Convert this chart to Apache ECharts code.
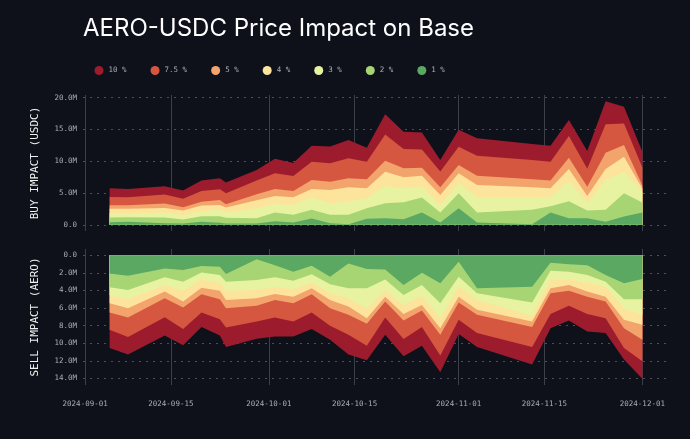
<!DOCTYPE html>
<html><head><meta charset="utf-8">
<script src="https://cdn.jsdelivr.net/npm/echarts@6/dist/echarts.min.js"></script>
<style>html,body{margin:0;padding:0;background:#0f111a;} #c{width:690px;height:439px;}</style>
</head><body><div id="c"></div>
<script>
const dates = ['2024-09-05','2024-09-08','2024-09-14','2024-09-17','2024-09-20','2024-09-23','2024-09-24','2024-09-29','2024-10-02','2024-10-05','2024-10-08','2024-10-11','2024-10-14','2024-10-17','2024-10-20','2024-10-23','2024-10-26','2024-10-29','2024-11-01','2024-11-04','2024-11-13','2024-11-16','2024-11-19','2024-11-22','2024-11-25','2024-11-28','2024-12-01'];
const levels = ['10 %','7.5 %','5 %','4 %','3 %','2 %','1 %'];
const colors = ['#9c1c2e','#d5573f','#f2a46c','#fde49c','#e7f3a1','#a8d574','#5aa862'];

// Buy impact (USDC, millions) per price-impact level
const buy10 = [5.75,5.64,6.06,5.38,6.95,7.31,6.64,8.62,10.40,9.72,12.45,12.33,13.32,12.12,17.40,14.63,14.52,10.2,14.95,13.6,12.7,12.45,16.5,11.6,19.44,18.55,11.5];
const buy75 = [4.39,4.34,4.75,4.08,5.33,5.59,4.96,6.95,8.10,7.68,9.93,9.67,10.45,9.93,14.21,11.91,11.86,8.4,12.28,10.87,10.19,9.93,13.95,8.8,15.83,15.94,9.0];
const buy5 = [3.08,3.08,3.34,2.77,3.61,3.92,3.24,4.81,5.64,5.33,7.05,6.79,7.31,7.16,10.08,8.88,8.99,5.90,9.40,7.73,7.16,6.95,10.55,6.0,11.34,12.54,6.2];
const buy4 = [2.51,2.51,2.66,2.25,3.03,3.13,2.72,3.87,4.55,4.34,5.64,5.49,5.90,5.75,8.36,7.47,7.73,4.70,8.10,6.27,5.90,5.75,8.78,4.55,8.78,10.71,5.7];
const buy3 = [1.83,1.83,1.93,1.52,2.14,2.35,1.93,2.61,3.24,3.13,4.34,3.40,3.76,4.18,6.11,5.75,6.01,3.13,6.53,4.39,4.28,4.34,6.95,3.40,7.05,8.36,5.2];
const buy2 = [1.15,1.20,1.15,0.84,1.36,1.36,1.10,1.04,1.93,1.57,2.35,1.57,1.57,2.61,3.40,3.55,4.28,1.93,4.96,1.93,2.35,2.9,3.7,2.25,2.35,4.96,3.5];
const buy1 = [0.42,0.47,0.26,0.21,0.47,0.31,0.21,0.21,0.58,0.37,0.99,0.26,0.10,0.94,1.04,0.89,1.93,0.37,2.61,0.37,0.10,1.93,1.04,1.04,0.47,1.31,1.95];

// Sell impact (AERO, millions) per price-impact level
const sell10 = [10.55,11.30,9.12,10.24,8.17,9.12,10.43,9.49,9.23,9.23,8.40,9.60,11.30,11.94,9.04,11.49,10.28,13.30,8.96,10.43,12.43,8.29,7.42,8.66,8.85,11.86,14.05];
const sell75 = [8.47,9.30,7.04,8.40,6.52,7.27,8.21,7.53,7.08,7.53,6.52,8.02,9.04,10.28,7.08,9.53,8.17,11.41,7.34,8.85,10.43,6.67,5.76,6.67,7.16,10.55,12.05];
const sell5 = [6.52,7.08,4.90,5.95,4.44,5.01,6.03,5.76,5.08,5.46,4.44,6.03,6.78,7.80,5.27,7.42,6.29,9.04,5.39,6.78,8.17,4.33,4.03,4.71,5.27,8.29,9.60];
const sell4 = [5.46,6.03,4.14,5.27,3.69,4.03,5.08,4.90,4.41,4.71,3.77,5.08,5.84,7.16,4.71,6.67,5.65,8.29,4.71,6.21,7.53,3.77,3.39,4.14,4.71,7.34,7.91];
const sell3 = [4.52,5.01,3.39,4.03,2.75,3.13,4.03,3.95,3.58,3.88,3.13,4.33,4.90,6.03,3.95,5.65,4.63,7.16,3.58,5.08,6.89,2.75,2.75,3.13,3.58,6.03,6.78];
const sell2 = [3.65,3.95,2.52,3.01,1.96,2.26,3.01,2.82,2.52,2.90,2.18,3.31,3.77,3.77,2.75,4.52,3.39,5.46,2.45,4.33,5.39,1.77,1.88,2.26,3.01,5.01,5.01];
const sell1 = [2.07,2.34,1.51,1.69,1.24,1.32,2.15,0.45,1.13,1.88,1.21,2.45,0.94,1.58,1.62,3.39,2.00,3.20,0.75,3.77,3.58,0.87,1.02,1.13,2.26,3.20,2.71];

const xTickLabels = ['2024-09-01','2024-09-15','2024-10-01','2024-10-15','2024-11-01','2024-11-15','2024-12-01'];
const buyTicks = [0,5,10,15,20];
const sellTicks = [0,2,4,6,8,10,12,14];

const buyLevels = [buy10,buy75,buy5,buy4,buy3,buy2,buy1];
const sellLevels = [sell10,sell75,sell5,sell4,sell3,sell2,sell1];

const ts = s => Date.parse(s + 'T00:00:00Z');
const x0 = ts(dates[0]), x1 = ts(dates[dates.length-1]);
const span = x1 - x0;
const xMin = x0 - 0.05*span, xMax = x1 + 0.05*span;
const buyMax = Math.max(...buy10), sellMax = Math.max(...sell10);

const mono = 'DejaVu Sans Mono';
const tickColor = '#a9adb5';
const fmtY = v => v === 0 ? '0.0' : v.toFixed(1) + 'M';
const fmtX = v => new Date(v).toISOString().slice(0,10);
const xCustom = xTickLabels.map(ts);

function xAxis(gridIndex, showLabels){
  return {
    type:'value', gridIndex, min:xMin, max:xMax,
    axisLine:{show:false},
    axisTick:{show:false, customValues:xCustom},
    axisLabel:{show:showLabels, customValues:xCustom, formatter:fmtX, color:tickColor, fontFamily:mono, fontSize:7.5, margin:15},
    splitLine:{show:true, lineStyle:{color:'#3b3f4a', width:1, type:'solid'}}
  };
}
function yAxis(gridIndex, name, min, max, ticks, inverse){
  return {
    type:'value', gridIndex, min, max, inverse,
    name, nameLocation:'middle', nameGap:42, nameRotate:90,
    nameTextStyle:{color:'#f2f2f2', fontFamily:mono, fontSize:11, fontWeight:500},
    axisLine:{show:false},
    axisTick:{show:false, customValues:ticks},
    axisLabel:{customValues:ticks, formatter:fmtY, color:tickColor, fontFamily:mono, fontSize:7.5, margin:6},
    splitLine:{show:true, lineStyle:{color:'#4a4f5b', width:1, type:[2,5]}}
  };
}

const series = [];
levels.forEach((name, i) => {
  series.push({
    name, type:'line', xAxisIndex:0, yAxisIndex:0, symbol:'none', silent:true,
    lineStyle:{width:0}, itemStyle:{color:colors[i]},
    areaStyle:{color:colors[i], opacity:1},
    data: dates.map((d,j) => [ts(d), buyLevels[i][j]])
  });
});
levels.forEach((name, i) => {
  series.push({
    name, type:'line', xAxisIndex:1, yAxisIndex:1, symbol:'none', silent:true,
    lineStyle:{width:0}, itemStyle:{color:colors[i]},
    areaStyle:{color:colors[i], opacity:1},
    data: dates.map((d,j) => [ts(d), sellLevels[i][j]])
  });
});

const chart = echarts.init(document.getElementById('c'), null, {renderer:'canvas'});
chart.setOption({
  backgroundColor:'#0f111a',
  animation:false,
  title:{text:'AERO-USDC Price Impact on Base', left:78, top:12,
    textStyle:{color:'#ffffff', fontFamily:'Inter', fontWeight:400, fontSize:24}},
  legend:{left:89.5, top:61, itemWidth:9, itemHeight:9, itemGap:24, icon:'circle',
    textStyle:{color:tickColor, fontFamily:mono, fontSize:7.5}, data:levels},
  grid:[
    {left:83, right:21, top:95, height:136},
    {left:83, right:21, top:249, height:136}
  ],
  xAxis:[xAxis(0,false), xAxis(1,true)],
  yAxis:[
    yAxis(0,'BUY IMPACT (USDC)', -0.05*buyMax, 1.05*buyMax, buyTicks, false),
    yAxis(1,'SELL IMPACT (AERO)', -0.05*sellMax, 1.05*sellMax, sellTicks, true)
  ],
  series
});
</script></body></html>
